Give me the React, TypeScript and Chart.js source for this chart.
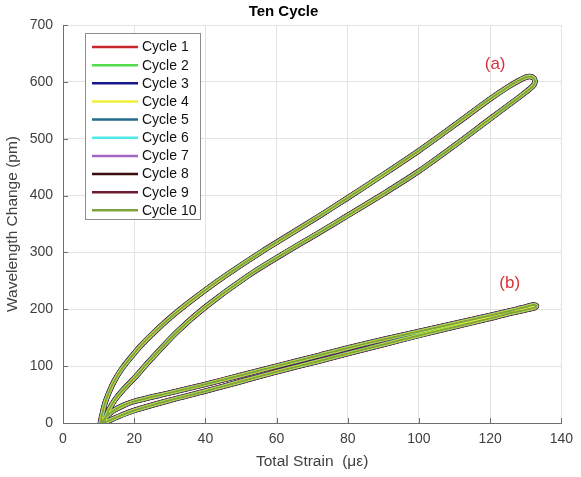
import React, { useEffect, useRef } from "react";
import { Chart, registerables } from "chart.js";

Chart.register(...registerables);

// ---------- data ----------
const cycleLabels = ["Cycle 1", "Cycle 2", "Cycle 3", "Cycle 4", "Cycle 5", "Cycle 6", "Cycle 7", "Cycle 8", "Cycle 9", "Cycle 10"];
const cycleColors = ["#c9262c", "#52dc4c", "#17178c", "#f0f03c", "#246b8c", "#52e8e8", "#a066c2", "#3a0c0c", "#701c30", "#7fa33e"];

const xTicks = [0, 20, 40, 60, 80, 100, 120, 140];
const yTicks = [0, 100, 200, 300, 400, 500, 600, 700];

// loop (a): upper branch (start -> tip) and lower branch (tip -> start), [strain, wavelength change]
const loopAUpper: [number, number][] = [
  [10.5, 0], [11, 15], [11.8, 35], [13, 55], [14.5, 75], [16.5, 95], [19, 115], [22, 137], [26, 162],
  [31, 190], [36, 215], [44, 252], [56, 302], [64, 333], [72, 364], [80, 396], [90, 437], [100, 479],
  [110, 524], [120, 570], [125, 591], [128, 602], [130.5, 609], [132, 608], [132.6, 602],
];
const loopALower: [number, number][] = [
  [132.3, 595], [131.2, 588], [129, 577], [126, 563], [120, 535], [110, 488], [100, 443], [90, 403],
  [80, 365], [72, 335], [62, 298], [52, 259], [40, 204], [32, 160], [24, 107], [20.5, 82], [17, 59],
  [14.5, 40], [13, 24], [12, 10], [11.5, 0],
];
// loop (b)
const loopBUpper: [number, number][] = [
  [10.8, 0], [12, 10], [14, 21], [17, 31], [20, 38], [30, 53], [40, 68], [50, 84], [60, 100], [72, 119],
  [80, 132], [90, 147], [100, 161], [110, 175], [120, 189], [126, 198], [130, 204], [132, 207.5], [133, 206],
];
const loopBLower: [number, number][] = [
  [132.6, 203], [130, 199], [125, 192], [120, 184], [110, 169], [100, 154], [90, 138], [80, 122],
  [72, 109], [60, 90], [50, 73], [40, 56], [30, 40], [20, 22], [15, 10], [12.5, 3], [11.3, 0],
];

// label annotations: [text, strain, wavelength]
const loopLabels: [string, number, number][] = [
  ["(a)", 121.4, 630],
  ["(b)", 125.5, 246],
];

// ---------- styles ----------
const cycleWidths = [4.5, 3.5, 4.5, 3, 4, 4, 3.5, 5.5, 5, 2];
const FONT = "'Liberation Sans', Arial, Helvetica, sans-serif";

const toPts = (arr: [number, number][]) => arr.map(([x, y]) => ({ x, y }));

const overlayPlugin = {
  id: "overlay",
  afterDatasetsDraw(chart: any) {
    const ctx = chart.ctx as CanvasRenderingContext2D;
    const xs = chart.scales.x;
    const ys = chart.scales.y;
    const area = chart.chartArea;
    ctx.save();
    // inward tick marks
    ctx.strokeStyle = "#6e6e6e";
    ctx.lineWidth = 1;
    ctx.beginPath();
    xTicks.forEach((v) => {
      const px = Math.round(xs.getPixelForValue(v)) + 0.5;
      ctx.moveTo(px, area.bottom);
      ctx.lineTo(px, area.bottom - 5);
    });
    yTicks.forEach((v) => {
      const py = Math.round(ys.getPixelForValue(v)) + 0.5;
      ctx.moveTo(area.left, py);
      ctx.lineTo(area.left + 5, py);
    });
    ctx.stroke();

    // loop labels
    ctx.fillStyle = "#d8323c";
    ctx.font = `17px ${FONT}`;
    ctx.textAlign = "center";
    ctx.textBaseline = "middle";
    loopLabels.forEach(([t, x, y]) => {
      ctx.fillText(t, xs.getPixelForValue(x), ys.getPixelForValue(y));
    });

    // legend box
    const lx = area.left + 22;
    const ly = area.top + 8;
    const lw = 115;
    const lh = 186;
    ctx.fillStyle = "#ffffff";
    ctx.fillRect(lx, ly, lw, lh);
    ctx.strokeStyle = "#8c8c8c";
    ctx.lineWidth = 1;
    ctx.strokeRect(lx + 0.5, ly + 0.5, lw, lh);
    ctx.font = `14px ${FONT}`;
    ctx.textAlign = "left";
    ctx.textBaseline = "middle";
    cycleLabels.forEach((lab, i) => {
      const cy = ly + 14 + i * 18.15;
      ctx.strokeStyle = cycleColors[i];
      ctx.lineWidth = 2.5;
      ctx.beginPath();
      ctx.moveTo(lx + 7, cy);
      ctx.lineTo(lx + 53, cy);
      ctx.stroke();
      ctx.fillStyle = "#111";
      ctx.fillText(lab, lx + 57, cy + 0.5);
    });
    ctx.restore();
  },
};

export default function App() {
  const ref = useRef<HTMLCanvasElement | null>(null);

  useEffect(() => {
    if (!ref.current) return;
    const datasets = cycleLabels.map((label, i) => ({
      label,
      data: [
        ...toPts(loopAUpper),
        ...toPts(loopALower),
        { x: 133, y: null as any },
        ...toPts(loopBUpper),
        ...toPts(loopBLower),
      ],
      borderColor: cycleColors[i],
      backgroundColor: cycleColors[i],
      borderWidth: cycleWidths[i],
      order: cycleWidths[i] * 10,
      pointRadius: 0,
      tension: 0.3,
      fill: false,
      spanGaps: false,
      borderJoinStyle: "round" as const,
      borderCapStyle: "round" as const,
    }));

    const chart = new Chart(ref.current, {
      type: "line",
      data: { datasets },
      plugins: [overlayPlugin],
      options: {
        responsive: false,
        animation: false,
        devicePixelRatio: 1,
        layout: { padding: { left: 0, right: 14, top: 0, bottom: 0 } },
        plugins: {
          legend: { display: false },
          tooltip: { enabled: false },
          title: {
            display: true,
            text: "Ten Cycle",
            color: "#000",
            font: { family: FONT, size: 15, weight: "bold" },
            padding: { top: 3, bottom: 4 },
          },
        },
        scales: {
          x: {
            type: "linear",
            min: 0,
            max: 140,
            afterBuildTicks: (s: any) => {
              s.ticks = xTicks.map((v) => ({ value: v }));
            },
            afterFit: (s: any) => {
              s.height = 54;
            },
            ticks: { color: "#404040", font: { family: FONT, size: 14 }, padding: 8 },
            grid: { color: "#e3e3e3", drawTicks: false },
            border: { display: true, color: "#6e6e6e" },
            title: {
              display: true,
              text: "Total Strain  (με)",
              color: "#404040",
              font: { family: FONT, size: 15.5 },
              padding: { top: 0, bottom: 6 },
            },
          },
          y: {
            type: "linear",
            min: 0,
            max: 700,
            afterBuildTicks: (s: any) => {
              s.ticks = yTicks.map((v) => ({ value: v }));
            },
            afterFit: (s: any) => {
              s.width = 63;
            },
            ticks: { color: "#404040", font: { family: FONT, size: 14 }, padding: 10 },
            grid: { color: "#e3e3e3", drawTicks: false },
            border: { display: true, color: "#6e6e6e" },
            title: {
              display: true,
              text: "Wavelength Change (pm)",
              color: "#404040",
              font: { family: FONT, size: 15.5 },
              padding: { top: 3, bottom: 0 },
            },
          },
        },
      },
    });
    return () => chart.destroy();
  }, []);

  return (
    <div style={{ position: "absolute", left: 0, top: 0, width: 581, height: 477, background: "#fff" }}>
      <canvas ref={ref} width={581} height={477} />
    </div>
  );
}
